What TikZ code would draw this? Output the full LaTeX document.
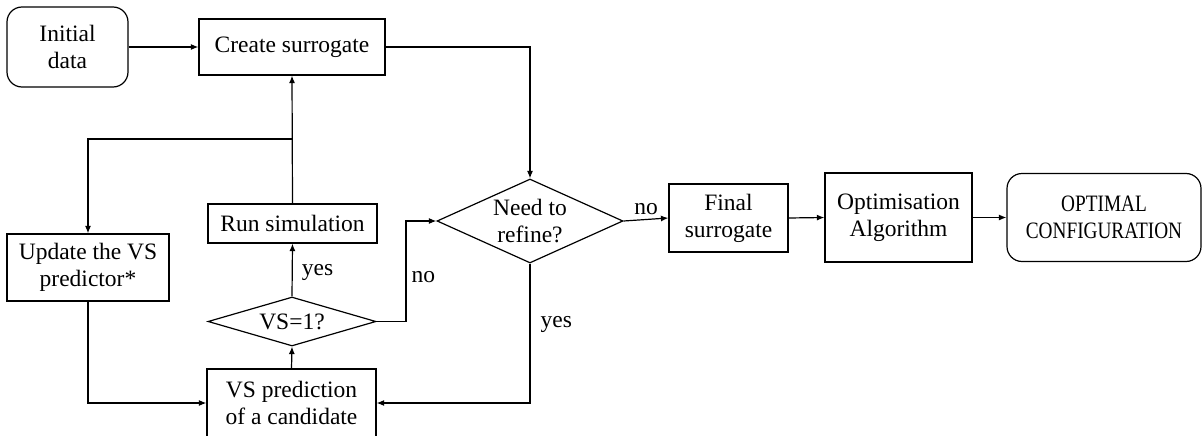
\documentclass[tikz,border=0pt]{standalone}
\usepackage{fontspec}
\setmainfont{Liberation Serif}
\newfontfamily\narrowserif[FakeStretch=0.82]{Liberation Serif}
\usetikzlibrary{shapes.geometric,arrows.meta}
\begin{document}
\begin{tikzpicture}[x=1pt,y=-1pt,
  every node/.style={font=\fontsize{23.5}{27}\selectfont, align=center, inner sep=0pt},
  box/.style={draw, line width=1.2pt, minimum width=#1},
  rbox/.style={draw, line width=1.2pt, rounded corners=15pt},
  dia/.style={draw, line width=1.2pt, diamond},
  conn/.style={line width=1.2pt, -{Latex[length=7.5pt,width=6pt]}},
  lbl/.style={font=\fontsize{23.5}{27}\selectfont}
]
\useasboundingbox (0,0) rectangle (1202,436);

\node[rbox, minimum width=121pt, minimum height=80pt] (init) at (67.5,47) {Initial\\data};
\node[box=186pt, minimum height=56pt] (create) at (292,47) {Create surrogate};
\node[box=162pt, minimum height=67pt] (update) at (88,267.5) {Update the VS\\predictor*};
\node[box=169pt, minimum height=39pt] (runsim) at (292.5,223.5) {Run simulation};
\node[dia, aspect=3.43, minimum width=168pt, minimum height=49pt] (vs1) at (292,321.5) {VS=1?};
\node[box=169pt, minimum height=68pt] (vspred) at (291.5,403) {VS prediction\\of a candidate};
\node[dia, aspect=2.2, minimum width=186pt, minimum height=84pt] (need) at (530,221) {Need to\\refine?};
\node[box=119pt, minimum height=68pt] (final) at (728.5,218) {Final\\surrogate};
\node[box=147pt, minimum height=89pt] (optim) at (898.5,217.5) {Optimisation\\Algorithm};
\node[rbox, minimum width=194pt, minimum height=88pt, font=\narrowserif\fontsize{23.5}{27}\selectfont] (optimal) at (1104,217.5) {OPTIMAL\\CONFIGURATION};

\coordinate (j) at (292,139);
\coordinate (c1) at (406,321.5);

\draw[conn] (init.east) -- (create.west);
\draw[conn] (create.east) -| (need.north);
\draw[conn] (runsim.north) -- (create.south);
\draw[conn] (j) -| (update.north);
\draw[conn] (vs1.north) -- node[lbl, pos=0.45, right=9pt] {yes} (runsim.south);
\draw[conn] (vspred.north) -- (vs1.south);
\draw[conn] (vs1.east) -- (c1) |- node[lbl, pos=0.22, right=5pt] {no} (need.west);
\draw[conn] (need.south) |- node[lbl, pos=0.22, right=10pt] {yes} (vspred.east);
\draw[conn] (need.east) -- node[lbl, above=4pt] {no} (final.west);
\draw[conn] (update.south) |- (vspred.west);
\draw[conn] (final.east) -- (optim.west);
\draw[conn] (optim.east) -- (optimal.west);
\end{tikzpicture}
\end{document}
